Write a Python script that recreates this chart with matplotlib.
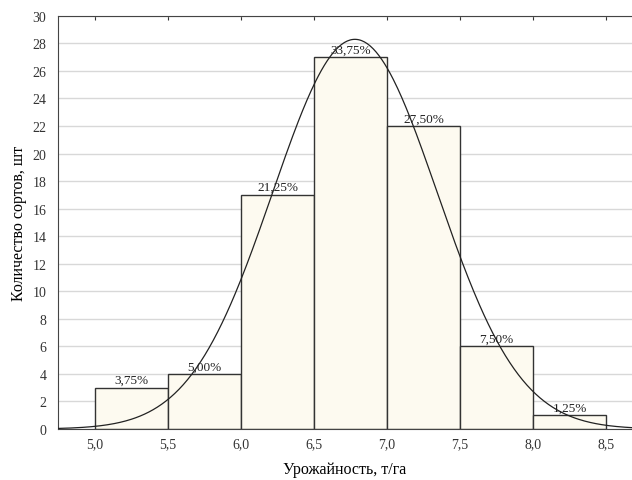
import numpy as np
import matplotlib.pyplot as plt

# yield bins (t/ha) and number of varieties per bin
bin_left = [5.0, 5.5, 6.0, 6.5, 7.0, 7.5, 8.0]
counts = [3, 4, 17, 27, 22, 6, 1]
pct_labels = ["3,75%", "5,00%", "21,25%", "33,75%", "27,50%", "7,50%", "1,25%"]
bin_width = 0.5

# fitted normal curve parameters
mu = 6.78
sigma = 0.564

xticks = [5.0, 5.5, 6.0, 6.5, 7.0, 7.5, 8.0, 8.5]
yticks = list(range(0, 31, 2))

plt.rcParams['font.family'] = ['Liberation Serif', 'DejaVu Serif']

fig = plt.figure(figsize=(6.32, 4.81), dpi=100)
ax = fig.add_axes([0.092, 0.106, 0.908, 0.859])

ax.set_xlim(4.747, 8.678)
ax.set_ylim(0, 30)

ax.set_axisbelow(True)
ax.grid(axis='y', color='#d8d8d8', linewidth=1)

ax.bar(bin_left, counts, width=bin_width, align='edge',
       color='#fdfaf0', edgecolor='#333333', linewidth=1, zorder=2)

for x0, c, lab in zip(bin_left, counts, pct_labels):
    ax.text(x0 + bin_width / 2, c + 0.12, lab, ha='center', va='bottom',
            fontsize=9.5, color='#222222', zorder=4)

n = sum(counts)
xs = np.linspace(4.747, 8.678, 400)
ys = n * bin_width / (sigma * np.sqrt(2 * np.pi)) * np.exp(-0.5 * ((xs - mu) / sigma) ** 2)
ax.plot(xs, ys, color='#222222', linewidth=0.9, zorder=3)

ax.set_xticks(xticks)
ax.set_xticklabels([f"{v:.1f}".replace('.', ',') for v in xticks])
ax.set_yticks(yticks)
ax.tick_params(axis='both', labelsize=10, colors='#333333')
ax.tick_params(axis='x', bottom=False, top=True, direction='in', length=3, pad=6)
ax.tick_params(axis='y', left=False, pad=5)

for side in ['left', 'bottom', 'top']:
    ax.spines[side].set_color('#444444')
ax.spines['right'].set_visible(False)

ax.set_xlabel("Урожайность, т/га", fontsize=11.5, labelpad=8)
ax.set_ylabel("Количество сортов, шт", fontsize=11.5, labelpad=4)

fig.savefig("out.png", dpi=100)
